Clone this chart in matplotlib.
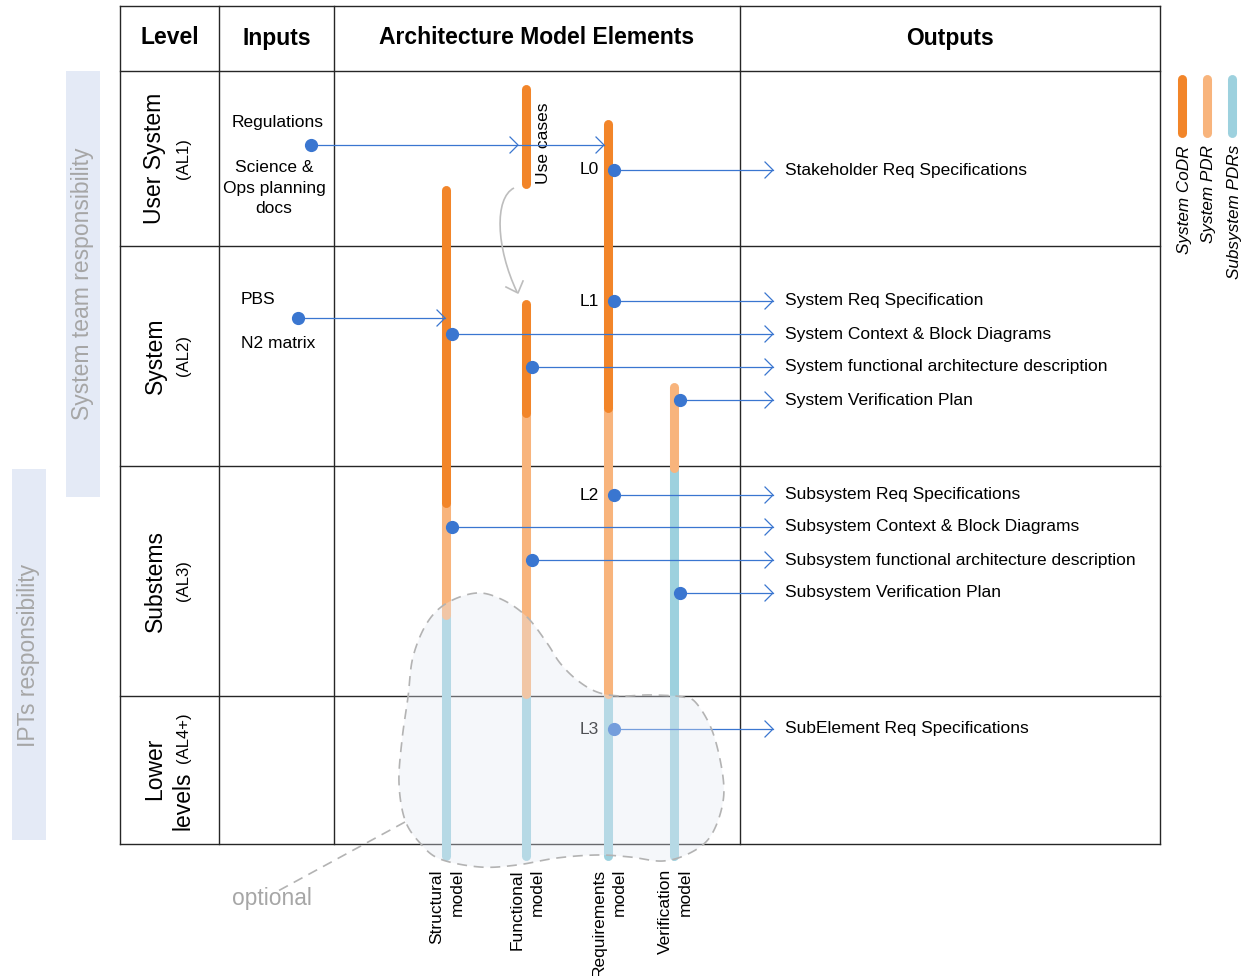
import numpy as np
import matplotlib
matplotlib.use('Agg')
import matplotlib.pyplot as plt
from matplotlib.patches import Rectangle, Polygon, PathPatch
from matplotlib.path import Path

plt.rcParams['font.family'] = ['Liberation Sans', 'DejaVu Sans']

# ---------------- data ----------------
headers = ['Level', 'Inputs', 'Architecture Model Elements', 'Outputs']
level_names = ['User System', 'System', 'Substems', 'Lower']
level_codes = ['(AL1)', '(AL2)', '(AL3)', '(AL4+)']
models = ['Structural\nmodel', 'Functional\nmodel', 'Requirements\nmodel', 'Verification\nmodel']
phases = ['System CoDR', 'System PDR', 'Subsystem PDRs']
phase_colors = ['#F28529', '#F8B47C', '#9DD1DE']
# bar segments per model: (phase index, start, end) along the level axis
segments = {
    0: [(0, 190, 503), (1, 503, 615), (2, 615, 856)],
    1: [(0, 304, 413), (1, 413, 694), (2, 694, 856)],
    2: [(0, 124, 408), (1, 408, 694), (2, 694, 856)],
    3: [(1, 387, 468), (2, 468, 856)],
}
use_case_seg = (0, 89, 184)
outputs = ['Stakeholder Req Specifications', 'System Req Specification',
           'System Context & Block Diagrams', 'System functional architecture description',
           'System Verification Plan', 'Subsystem Req Specifications',
           'Subsystem Context & Block Diagrams', 'Subsystem functional architecture description',
           'Subsystem Verification Plan', 'SubElement Req Specifications']
output_model = [2, 2, 0, 1, 3, 2, 0, 1, 3, 2]
output_y = [170, 301, 334, 367, 400, 495, 527, 560, 593, 729]
req_labels = {0: 'L0', 1: 'L1', 5: 'L2', 9: 'L3'}

# ---------------- layout ----------------
W, H = 1246, 976
fig = plt.figure(figsize=(W / 100, H / 100), dpi=100)
ax = fig.add_axes([0, 0, 1, 1])
ax.set_xlim(0, W)
ax.set_ylim(H, 0)
ax.axis('off')

col_edges = [120, 219, 334, 740, 1160]
row_edges = [6, 71, 246, 466, 696, 844]
model_x = [446, 526, 608, 674]
use_case_x = 526
DOT = '#3A76D0'
GRID = '#262626'
FS = 12.5

# responsibility bands
ax.add_patch(Rectangle((66, 71), 34, 426, fc='#E4EAF6', ec='none', zorder=0))
ax.add_patch(Rectangle((12, 469), 34, 371, fc='#E4EAF6', ec='none', zorder=0))
ax.text(83, 284, 'System team responsibility', rotation=90, ha='center', va='center',
        fontsize=16.5, color='#A6A6A6')
ax.text(29, 655, 'IPTs responsibility', rotation=90, ha='center', va='center',
        fontsize=16.5, color='#A6A6A6')

# table grid
for x in col_edges:
    ax.plot([x, x], [row_edges[0], row_edges[-1]], color=GRID, lw=1.0, zorder=1)
for y in row_edges:
    ax.plot([col_edges[0], col_edges[-1]], [y, y], color=GRID, lw=1.0, zorder=1)

for i, h in enumerate(headers):
    ax.text((col_edges[i] + col_edges[i + 1]) / 2, 38, h, ha='center', va='center',
            fontsize=16.5, fontweight='bold')

# level labels
for i in range(3):
    yc = (row_edges[i + 1] + row_edges[i + 2]) / 2
    ax.text(155, yc, level_names[i], rotation=90, ha='center', va='center', fontsize=16.5)
    ax.text(183, yc, level_codes[i], rotation=90, ha='center', va='center', fontsize=12)
ax.text(155, 769, level_names[3], rotation=90, ha='center', va='center', fontsize=16.5)
ax.text(183, 830, 'levels', rotation=90, ha='center', va='bottom', fontsize=16.5)
ax.text(183, 712, level_codes[3], rotation=90, ha='center', va='top', fontsize=12)

# inputs
ax.text(278, 123, 'Regulations', ha='center', va='center', fontsize=FS)
ax.text(274, 188, 'Science &\nOps planning\ndocs', ha='center', va='center',
        fontsize=FS, linespacing=1.45)
ax.text(258, 300, 'PBS', ha='center', va='center', fontsize=FS)
ax.text(278, 343, 'N2 matrix', ha='center', va='center', fontsize=FS)


def chevron(x, y, color=DOT, s=8, lw=0.9, z=3):
    ax.plot([x - s, x, x - s], [y - s, y, y + s], color=color, lw=lw, zorder=z,
            solid_joinstyle='miter')


# bars
for m, segs in segments.items():
    for ph, y0, y1 in reversed(segs):
        ax.plot([model_x[m], model_x[m]], [y0, y1], color=phase_colors[ph], lw=6.5,
                solid_capstyle='round', zorder=2)
ph, y0, y1 = use_case_seg
ax.plot([use_case_x, use_case_x], [y0, y1], color=phase_colors[ph], lw=6.5,
        solid_capstyle='round', zorder=2)
ax.text(544, 143, 'Use cases', rotation=90, ha='center', va='center', fontsize=FS)

# input arrows
ax.plot([311, 604], [145, 145], color=DOT, lw=0.9, zorder=3)
chevron(518, 145)
chevron(604, 145)
ax.plot([311], [145], 'o', color=DOT, ms=8.5, zorder=4)
ax.plot([298, 445], [318, 318], color=DOT, lw=0.9, zorder=3)
chevron(445, 318)
ax.plot([298], [318], 'o', color=DOT, ms=8.5, zorder=4)

# outputs
for k, txt in enumerate(outputs):
    dx = model_x[output_model[k]] + 5.5
    y = output_y[k]
    ax.plot([dx, 773], [y, y], color=DOT, lw=0.9, zorder=3)
    chevron(773, y)
    ax.plot([dx], [y], 'o', color=DOT, ms=8.5, zorder=4)
    ax.text(785, y, txt, ha='left', va='center', fontsize=FS)
    if k in req_labels:
        ax.text(599, y, req_labels[k], ha='right', va='center', fontsize=FS)

# curved grey arrow (use cases -> functional)
verts = [(514, 188), (494, 198), (496, 248), (517, 292)]
ax.add_patch(PathPatch(Path(verts, [Path.MOVETO, Path.CURVE4, Path.CURVE4, Path.CURVE4]),
                       fc='none', ec='#BDBDBD', lw=1.2, zorder=3))
ax.plot([506, 518, 523], [287, 293, 281], color='#BDBDBD', lw=1.2, zorder=3)

# model labels
for m, name in enumerate(models):
    ax.text(model_x[m] + 1, 869, name, rotation=90, ha='center', va='top', fontsize=FS,
            multialignment='right', linespacing=1.4)

# legend
leg_x = [1182, 1207, 1232]
for i, ph in enumerate(phases):
    ax.plot([leg_x[i], leg_x[i]], [79, 133], color=phase_colors[i], lw=6.5,
            solid_capstyle='round', zorder=2)
    ax.text(leg_x[i] + 2, 145, ph, rotation=90, ha='center', va='top', fontsize=12.3,
            style='italic')


# optional blob
def closed_spline(pts, n=24):
    P = np.asarray(pts, float)
    N = len(P)
    t = np.linspace(0, 1, n, endpoint=False)[:, None]
    out = []
    for i in range(N):
        p0, p1, p2, p3 = P[(i - 1) % N], P[i], P[(i + 1) % N], P[(i + 2) % N]
        out.append(0.5 * (2 * p1 + (-p0 + p2) * t + (2 * p0 - 5 * p1 + 4 * p2 - p3) * t ** 2
                          + (-p0 + 3 * p1 - 3 * p2 + p3) * t ** 3))
    return np.vstack(out)


blob_outline = [(477, 593), (447, 603), (427, 623), (413, 657), (408, 697), (402, 740),
                (399, 783), (405, 820), (420, 843), (440, 859), (480, 867), (517, 865),
                (557, 858), (597, 855), (630, 857), (663, 861), (690, 853), (710, 837),
                (722, 807), (723, 777), (713, 733), (697, 704), (683, 697), (650, 695),
                (620, 696), (597, 692), (577, 680), (560, 663), (547, 643), (527, 617),
                (503, 600)]
shape = closed_spline(blob_outline)
ax.add_patch(Polygon(shape, closed=True, fc='#E5E9F3', ec='none', alpha=0.35, zorder=5))
ax.add_patch(Polygon(shape, closed=True, fc='none', ec='#B3B3B3', lw=1.2,
                     linestyle=(0, (6, 4)), zorder=6))
ax.plot([405, 278], [822, 891], color='#B3B3B3', lw=1.2, linestyle=(0, (6, 4)), zorder=6)
ax.text(272, 898, 'optional', ha='center', va='center', fontsize=16.4, color='#A6A6A6')

fig.savefig('out.png', dpi=100)
